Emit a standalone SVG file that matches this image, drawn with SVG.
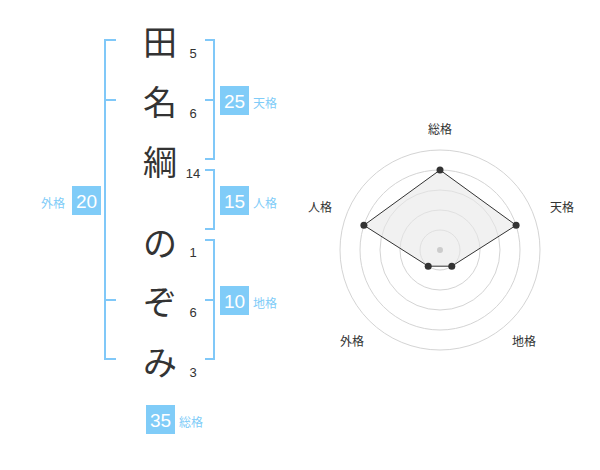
<svg xmlns="http://www.w3.org/2000/svg" width="600" height="470" viewBox="0 0 600 470">
<style>
.ch{font-family:"Noto Sans CJK JP","Noto Sans CJK SC",sans-serif;font-size:34px;fill:#333;text-anchor:middle;dominant-baseline:central}
.num{font-family:"Liberation Sans",Arial,sans-serif;font-size:13px;fill:#333;text-anchor:middle}
.br{fill:none;stroke:#80c8f8;stroke-width:2}
.box{fill:#80ccf8}
.bv{font-family:"Liberation Sans",Arial,sans-serif;font-size:19px;fill:#fff;text-anchor:middle}
.bl{font-family:"Noto Sans CJK JP","Noto Sans CJK SC",sans-serif;font-size:12px;fill:#80ccf8}
.ring{fill:none;stroke:#d4d4d4;stroke-width:1}
.rl{font-family:"Noto Sans CJK JP","Noto Sans CJK SC",sans-serif;font-size:12px;fill:#333;text-anchor:middle}
.pt{fill:#333}
</style>
<g id="name">
<text class="ch" x="160" y="40">田</text>
<text class="ch" x="160" y="100">名</text>
<text class="ch" x="160" y="160">綱</text>
<text class="ch" x="160" y="241">の</text>
<text class="ch" x="160" y="300">ぞ</text>
<text class="ch" x="160" y="360">み</text>
<text class="num" x="193" y="57.5">5</text>
<text class="num" x="193" y="117.5">6</text>
<text class="num" x="193" y="177.5">14</text>
<text class="num" x="193" y="257">1</text>
<text class="num" x="193" y="317">6</text>
<text class="num" x="193" y="377">3</text>
</g>
<g id="connectors">
<path class="br" d="M116 40H105V359H116M105 100H116M105 300H116"/>
<path class="br" d="M205 40H214V159H205M214 100H205"/>
<path class="br" d="M205 170H214V229H205"/>
<path class="br" d="M205 240H214V359H205M214 300H205"/>
</g>
<g id="tenkaku">
<rect class="box" x="220" y="86" width="29" height="29"/>
<text class="bv" x="234.5" y="107.5">25</text>
<text class="bl" x="253" y="108">天格</text>
</g>
<g id="jinkaku">
<rect class="box" x="220" y="186" width="29" height="29"/>
<text class="bv" x="234.5" y="207.5">15</text>
<text class="bl" x="253" y="208">人格</text>
</g>
<g id="chikaku">
<rect class="box" x="220" y="286" width="29" height="29"/>
<text class="bv" x="234.5" y="307.5">10</text>
<text class="bl" x="253" y="308">地格</text>
</g>
<g id="gaikaku">
<rect class="box" x="72" y="186" width="29" height="29"/>
<text class="bv" x="86.5" y="207.5">20</text>
<text class="bl" x="41" y="208">外格</text>
</g>
<g id="soukaku">
<rect class="box" x="146" y="405" width="29" height="29"/>
<text class="bv" x="160.5" y="426.5">35</text>
<text class="bl" x="179" y="427">総格</text>
</g>
<g id="radar">
<circle class="ring" cx="440" cy="250" r="20"/>
<circle class="ring" cx="440" cy="250" r="40"/>
<circle class="ring" cx="440" cy="250" r="60"/>
<circle class="ring" cx="440" cy="250" r="80"/>
<circle class="ring" cx="440" cy="250" r="100"/>
<polygon points="440,170 516.1,225.3 451.8,266.2 428.2,266.2 363.9,225.3" fill="#e8e8e8" fill-opacity="0.6" stroke="#333" stroke-width="1"/>
<circle cx="440" cy="250" r="3" fill="#cccccc"/>
<circle class="pt" cx="440" cy="170" r="3.5"/>
<circle class="pt" cx="516.1" cy="225.3" r="3.5"/>
<circle class="pt" cx="451.8" cy="266.2" r="3.5"/>
<circle class="pt" cx="428.2" cy="266.2" r="3.5"/>
<circle class="pt" cx="363.9" cy="225.3" r="3.5"/>
<text class="rl" x="440" y="134">総格</text>
<text class="rl" x="562" y="212">天格</text>
<text class="rl" x="524" y="346">地格</text>
<text class="rl" x="352" y="346">外格</text>
<text class="rl" x="320" y="212">人格</text>
</g>
</svg>
